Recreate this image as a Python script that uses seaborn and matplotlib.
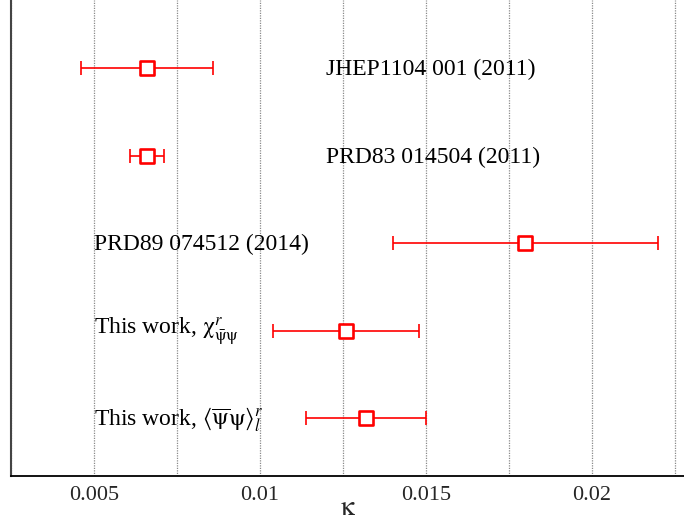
import matplotlib
matplotlib.use("Agg")
import matplotlib.pyplot as plt
import seaborn as sns
import pandas as pd
from matplotlib.ticker import MultipleLocator

# Valores (kappa critico)
labels = [
    "JHEP1104 001 (2011)",
    "PRD83 014504 (2011)",
    "PRD89 074512 (2014)",
    r"This work, $\mathrm{\chi}^{r}_{\bar{\mathrm{\psi}}\mathrm{\psi}}$",
    r"This work, $\langle\overline{\mathrm{\psi}}\mathrm{\psi}\rangle^{r}_{l}$",
]
kappa = [0.0066, 0.0066, 0.0180, 0.0126, 0.0132]
kappa_err = [0.0020, 0.0005, 0.0040, 0.0022, 0.0018]
row = [5, 4, 3, 2, 1]
label_x = [0.012, 0.012, 0.005, 0.005, 0.005]


def generate_chart():
    sns.set_style("white")
    plt.rcParams["font.family"] = ["Liberation Serif", "DejaVu Serif"]
    plt.rcParams["mathtext.fontset"] = "stix"

    df = pd.DataFrame({"kappa": kappa, "err": kappa_err, "row": row,
                       "label": labels, "lx": label_x})

    fig = plt.figure(figsize=(6.84, 5.30), dpi=100)
    ax = fig.add_axes([11 / 684, 54 / 530, 1 - 11 / 684, 476 / 530])

    # Barras de erro + marcadores
    ax.errorbar(df["kappa"], df["row"], xerr=df["err"], fmt="none",
                ecolor="red", elinewidth=1.2, capsize=5, capthick=1.2, zorder=3)
    sns.scatterplot(data=df, x="kappa", y="row", marker="s", s=100,
                    facecolor="white", edgecolor="red", linewidth=1.9,
                    ax=ax, zorder=4)

    for _, r in df.iterrows():
        ax.text(r["lx"], r["row"] - 0.02, r["label"], fontsize=17,
                va="center", ha="left", color="black")

    ax.set_xlim(0.0025, 0.02278)
    ax.set_ylim(1 - 58 / 87.5, 5 + 68 / 87.5)
    ax.xaxis.set_minor_locator(MultipleLocator(0.0025))
    ax.set_xticks([0.005, 0.01, 0.015, 0.02])
    ax.set_xticklabels(["0.005", "0.01", "0.015", "0.02"])
    ax.set_yticks([])
    ax.tick_params(axis="x", which="both", length=0, labelsize=16, pad=7)

    ax.grid(True, axis="x", which="both", linestyle=(0, (1, 1)),
            color="#8a8a8a", linewidth=0.9)
    ax.set_axisbelow(True)

    for side in ["top", "right"]:
        ax.spines[side].set_visible(False)
    ax.spines["left"].set_color("#444444")
    ax.spines["left"].set_linewidth(1.5)
    ax.spines["bottom"].set_color("black")
    ax.spines["bottom"].set_linewidth(1.3)

    ax.set_xlabel(r"$\mathrm{\kappa}$", fontsize=20, labelpad=-6)
    ax.set_ylabel("")

    fig.savefig("out.png", dpi=100)


if __name__ == "__main__":
    generate_chart()
